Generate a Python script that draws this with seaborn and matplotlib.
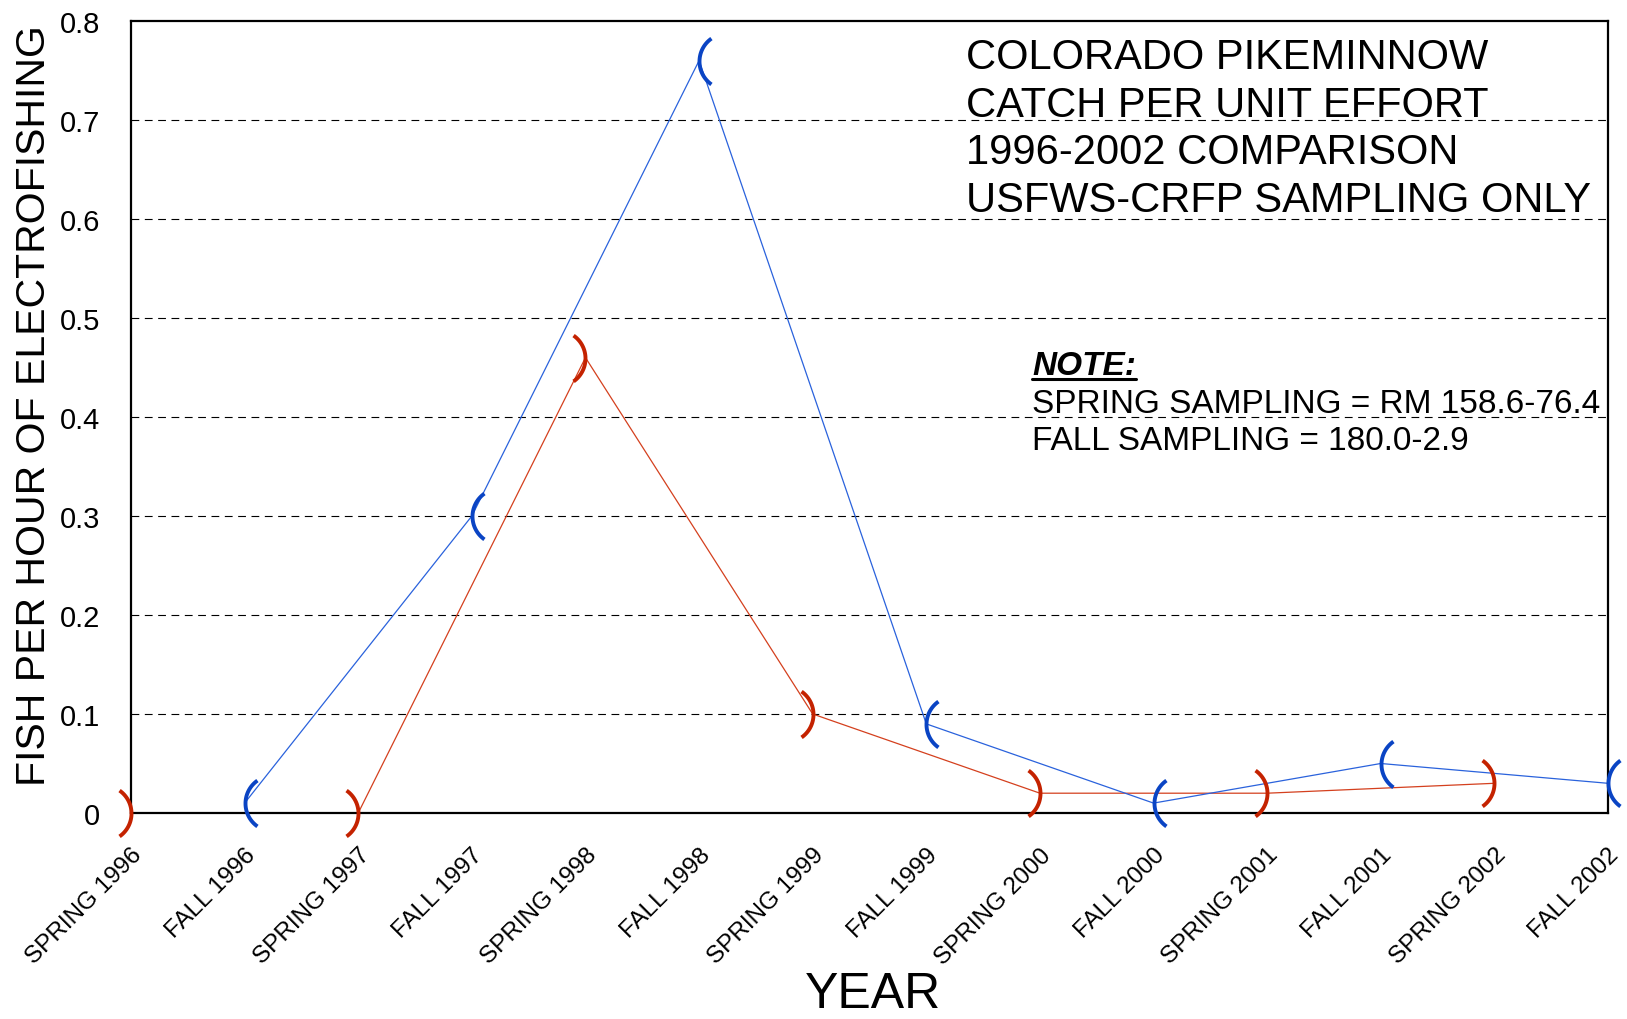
import numpy as np
import pandas as pd
import matplotlib
matplotlib.use("Agg")
import matplotlib.pyplot as plt
from matplotlib.path import Path
import seaborn as sns

# Season labels along the x axis
seasons = ["SPRING 1996", "FALL 1996", "SPRING 1997", "FALL 1997",
           "SPRING 1998", "FALL 1998", "SPRING 1999", "FALL 1999",
           "SPRING 2000", "FALL 2000", "SPRING 2001", "FALL 2001",
           "SPRING 2002", "FALL 2002"]

# CPUE values
spring_cpue = [0.0, 0.0, 0.46, 0.10, 0.02, 0.02, 0.03]
fall_cpue = [0.01, 0.30, 0.76, 0.09, 0.01, 0.05, 0.03]

y_ticks = [0, 0.1, 0.2, 0.3, 0.4, 0.5, 0.6, 0.7, 0.8]
y_tick_labels = ["0", "0.1", "0.2", "0.3", "0.4", "0.5", "0.6", "0.7", "0.8"]

title_lines = ["COLORADO PIKEMINNOW", "CATCH PER UNIT EFFORT",
               "1996-2002 COMPARISON", "USFWS-CRFP SAMPLING ONLY"]
note_lines = ["SPRING SAMPLING = RM 158.6-76.4", "FALL SAMPLING = 180.0-2.9"]

spring_df = pd.DataFrame({"pos": [seasons.index(s) for s in seasons if s.startswith("SPRING")],
                          "cpue": spring_cpue})
fall_df = pd.DataFrame({"pos": [seasons.index(s) for s in seasons if s.startswith("FALL")],
                        "cpue": fall_cpue})

sns.set_style("white")
plt.rcParams["font.family"] = ["Liberation Sans", "DejaVu Sans"]
for k in ["text.color", "axes.labelcolor", "xtick.color", "ytick.color"]:
    plt.rcParams[k] = "black"

# parenthesis-shaped markers, bulge at the data point
t = np.radians(np.linspace(-55, 55, 50))
close_paren = Path(np.column_stack([np.cos(t) - 1, np.sin(t)]))
open_paren = Path(np.column_stack([1 - np.cos(t), np.sin(t)]))

red_line, red_mark = "#D4401E", "#C42200"
blue_line, blue_mark = "#2A62DC", "#0A44C4"

fig = plt.figure(figsize=(16.27, 10.2), dpi=100)
ax = fig.add_axes([131 / 1627, 1 - 814 / 1020, (1608 - 131) / 1627, (814 - 22) / 1020])

sns.lineplot(data=spring_df, x="pos", y="cpue", ax=ax, color=red_line, lw=0.9)
sns.lineplot(data=fall_df, x="pos", y="cpue", ax=ax, color=blue_line, lw=0.9)
ax.plot(spring_df["pos"], spring_df["cpue"], ls="none", marker=close_paren,
        ms=33, mfc="none", mec=red_mark, mew=2.8, clip_on=False, zorder=5)
ax.plot(fall_df["pos"], fall_df["cpue"], ls="none", marker=open_paren,
        ms=33, mfc="none", mec=blue_mark, mew=2.8, clip_on=False, zorder=5)

ax.set_xlim(0, len(seasons) - 1)
ax.set_ylim(0, 0.8)
ax.set_xticks(range(len(seasons)))
ax.set_xticklabels(seasons, rotation=45, ha="right", rotation_mode="anchor", fontsize=17.5)
ax.set_yticks(y_ticks)
ax.set_yticklabels(y_tick_labels, fontsize=21)
ax.tick_params(axis="y", length=0, pad=22)
ax.tick_params(axis="x", length=0, pad=22)

for y in y_ticks[1:-1]:
    ax.axhline(y, color="black", ls=(0, (7, 5)), lw=0.8, zorder=0)

for s in ax.spines.values():
    s.set_color("black")
    s.set_linewidth(1.6)

ax.set_xlabel("YEAR", fontsize=36)
ax.xaxis.set_label_coords(0.502, -0.2)
ax.set_ylabel("FISH PER HOUR OF ELECTROFISHING", fontsize=29.5, va="center")
ax.yaxis.set_label_coords(-0.066, 0.516)

ax.text(0.565, 0.98, "\n".join(title_lines), transform=ax.transAxes,
        fontsize=30, va="top", ha="left", linespacing=1.25)

note = ax.text(0.610, 0.554, "NOTE:", transform=ax.transAxes, fontsize=24,
               fontweight="bold", fontstyle="italic", va="baseline", ha="left")
ax.text(0.610, 0.537, "\n".join(note_lines), transform=ax.transAxes, fontsize=24,
        va="top", ha="left", linespacing=1.28)

# underline for NOTE:
fig.canvas.draw()
bb = note.get_window_extent().transformed(ax.transAxes.inverted())
ax.plot([bb.x0, bb.x1], [0.548, 0.548], transform=ax.transAxes,
        color="black", lw=2.2, clip_on=False)

fig.savefig("out.png", dpi=100)
